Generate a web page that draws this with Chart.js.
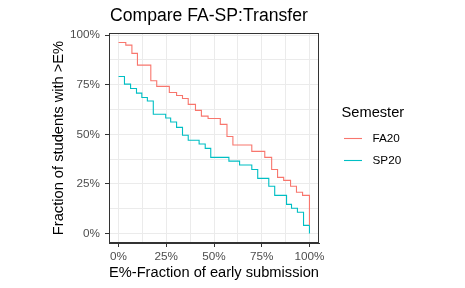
<!DOCTYPE html>
<html>
<head>
<meta charset="utf-8">
<script src="https://cdn.jsdelivr.net/npm/chart.js@4/dist/chart.umd.min.js"></script>
<style>
  html, body { margin: 0; padding: 0; background: #ffffff; }
  canvas { display: block; }
</style>
</head>
<body>
<canvas id="c" width="465" height="288"></canvas>
<script>
// ---- data ----
const titleText = "Compare FA-SP:Transfer";
const xTitle = "E%-Fraction of early submission";
const yTitle = "Fraction of students with >E%";
const legendTitle = "Semester";
const seriesNames = ["FA20", "SP20"];
const seriesColors = ["#F8766D", "#00BFC4"];
const tickValues = [0, 25, 50, 75, 100];
const tickLabels = ["0%", "25%", "50%", "75%", "100%"];
const minorTicks = [12.5, 37.5, 62.5, 87.5];

const faX = [0, 3.8, 7.0, 9.9, 16.9, 20.0, 26.6, 30.4, 33.5, 36.5, 40.3, 43.4, 46.9, 53.3, 56.8, 59.9, 69.8, 76.6, 80.2, 83.3, 86.5, 90.1, 93.2, 96.4, 100];
const faY = [96.3, 95.0, 90.8, 84.9, 77.0, 74.2, 71.1, 69.6, 68.1, 65.1, 62.1, 59.2, 58.0, 55.0, 48.9, 44.6, 41.4, 38.4, 32.3, 28.3, 26.8, 23.8, 20.8, 19.2, 4.1];

const spX = [0, 3.1, 6.3, 9.4, 12.2, 15.1, 18.2, 24.7, 27.3, 30.4, 33.5, 36.5, 42.2, 45.4, 48.3, 57.8, 63.4, 69.8, 72.9, 78.7, 81.8, 88.0, 90.6, 93.7, 96.9, 100];
const spY = [79.2, 75.3, 73.1, 70.8, 68.6, 66.8, 60.1, 58.2, 56.2, 53.5, 49.5, 47.0, 45.1, 42.9, 38.4, 36.5, 34.5, 32.3, 27.8, 23.8, 19.2, 14.7, 12.7, 10.7, 4.1, 0];

const FONT = "'Liberation Sans', Arial, Helvetica, sans-serif";

const allTicks = tickValues.concat(minorTicks).sort((a, b) => a - b);
function labelFor(v) {
  const i = tickValues.indexOf(v);
  return i >= 0 ? tickLabels[i] : "";
}
function isMajor(v) { return tickValues.indexOf(v) >= 0; }

const decor = {
  id: "decor",
  afterDatasetsDraw(chart) {
    const ctx = chart.ctx;
    const a = chart.chartArea;
    ctx.save();
    ctx.strokeStyle = "#333333";
    ctx.lineWidth = 1;
    ctx.strokeRect(Math.round(a.left) + 0.5, Math.round(a.top) + 0.5,
                   Math.round(a.right - a.left) - 1, Math.round(a.bottom - a.top) - 1);
    ctx.restore();
  },
  afterDraw(chart) {
    const ctx = chart.ctx;
    const a = chart.chartArea;
    ctx.save();
    // title
    ctx.fillStyle = "#000000";
    ctx.font = "17.6px " + FONT;
    ctx.textAlign = "left";
    ctx.textBaseline = "middle";
    ctx.fillText(titleText, a.left + 1, 16);
    // legend
    ctx.font = "14.67px " + FONT;
    ctx.fillText(legendTitle, 341.5, 113);
    const keyY = [138.5, 160.5];
    chart.data.datasets.forEach((ds, i) => {
      ctx.strokeStyle = ds.borderColor;
      ctx.lineWidth = 1.1;
      ctx.beginPath();
      ctx.moveTo(344, keyY[i]);
      ctx.lineTo(362, keyY[i]);
      ctx.stroke();
      ctx.fillStyle = "#000000";
      ctx.font = "11.73px " + FONT;
      ctx.fillText(ds.label, 372.5, keyY[i]);
    });
    ctx.restore();
  }
};

new Chart(document.getElementById("c"), {
  type: "line",
  data: {
    datasets: [
      {
        label: seriesNames[0],
        data: faX.map((x, i) => ({ x: x, y: faY[i] })),
        borderColor: seriesColors[0],
        backgroundColor: seriesColors[0],
        borderWidth: 1.1,
        pointRadius: 0,
        stepped: "before",
        fill: false
      },
      {
        label: seriesNames[1],
        data: spX.map((x, i) => ({ x: x, y: spY[i] })),
        borderColor: seriesColors[1],
        backgroundColor: seriesColors[1],
        borderWidth: 1.1,
        pointRadius: 0,
        stepped: "before",
        fill: false
      }
    ]
  },
  options: {
    responsive: false,
    animation: false,
    devicePixelRatio: 1,
    layout: { padding: { left: 0, right: 146, top: 33, bottom: 0 } },
    plugins: {
      legend: { display: false },
      title: { display: false },
      tooltip: { enabled: false }
    },
    scales: {
      x: {
        type: "linear",
        min: -5,
        max: 105,
        afterBuildTicks: (s) => { s.ticks = allTicks.map(v => ({ value: v })); },
        afterFit: (s) => { s.height = 45; },
        ticks: {
          autoSkip: false,
          maxRotation: 0,
          padding: 3,
          color: "#4D4D4D",
          font: { family: FONT, size: 11.73 },
          callback: (v) => labelFor(v)
        },
        grid: {
          color: "#EBEBEB",
          lineWidth: 1,
          tickLength: 4,
          tickColor: (c) => (c.tick && isMajor(c.tick.value)) ? "#333333" : "rgba(0,0,0,0)"
        },
        border: { display: true, color: "#333333", width: 1 },
        title: {
          display: true,
          text: xTitle,
          color: "#000000",
          font: { family: FONT, size: 14.67 },
          padding: { top: 0, bottom: 6 }
        }
      },
      y: {
        type: "linear",
        min: -4.8,
        max: 101.1,
        afterBuildTicks: (s) => { s.ticks = allTicks.map(v => ({ value: v })); },
        afterFit: (s) => { s.width = 109; },
        ticks: {
          autoSkip: false,
          padding: 5,
          color: "#4D4D4D",
          font: { family: FONT, size: 11.73 },
          callback: (v) => labelFor(v)
        },
        grid: {
          color: "#EBEBEB",
          lineWidth: 1,
          tickLength: 4,
          tickColor: (c) => (c.tick && isMajor(c.tick.value)) ? "#333333" : "rgba(0,0,0,0)"
        },
        border: { display: true, color: "#333333", width: 1 },
        title: {
          display: true,
          text: yTitle,
          color: "#000000",
          font: { family: FONT, size: 14.67 },
          padding: { top: 50, bottom: 0 }
        }
      }
    }
  },
  plugins: [decor]
});
</script>
</body>
</html>
